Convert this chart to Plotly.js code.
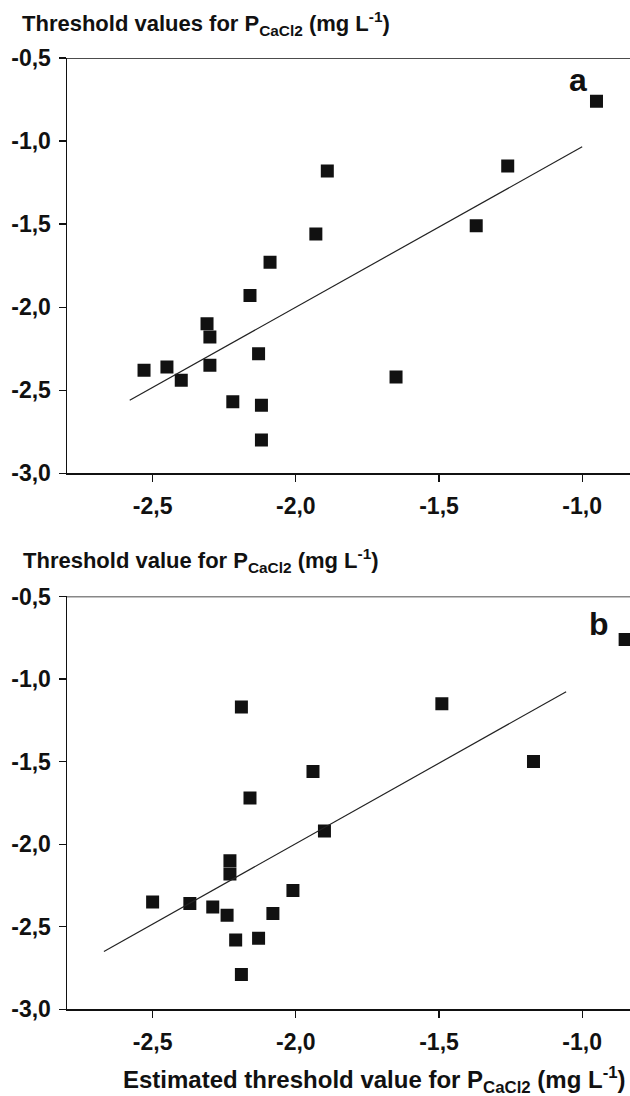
<!DOCTYPE html>
<html>
<head>
<meta charset="utf-8">
<script src="https://cdn.plot.ly/plotly-3.0.1.min.js"></script>
<style>html,body{margin:0;padding:0;background:#fff;overflow:hidden}</style>
</head>
<body>
<div id="chart" style="width:630px;height:1096px"></div>
<script>
// Panel a: threshold values (x) vs threshold values (y)
const xA = [-1.89, -1.93, -2.09, -2.16, -2.31, -2.30, -2.13, -2.30, -2.53, -2.45, -2.40, -2.22, -2.12, -2.12, -1.65, -0.95, -1.26, -1.37];
const yA = [-1.18, -1.56, -1.73, -1.93, -2.10, -2.18, -2.28, -2.35, -2.38, -2.36, -2.44, -2.57, -2.59, -2.80, -2.42, -0.76, -1.15, -1.51];
const fitAx = [-2.58, -1.00];
const fitAy = [-2.56, -1.035];

// Panel b: estimated threshold value (x) vs threshold value (y)
const xB = [-2.19, -1.49, -1.94, -2.16, -1.90, -2.23, -2.23, -2.01, -2.50, -2.37, -2.29, -2.24, -2.08, -2.21, -2.13, -2.19, -0.85, -1.17];
const yB = [-1.17, -1.15, -1.56, -1.72, -1.92, -2.10, -2.18, -2.28, -2.35, -2.36, -2.38, -2.43, -2.42, -2.58, -2.57, -2.79, -0.76, -1.50];
const fitBx = [-2.67, -1.056];
const fitBy = [-2.65, -1.077];

const xTicks = [-2.5, -2.0, -1.5, -1.0];
const yTicks = [-3.0, -2.5, -2.0, -1.5, -1.0, -0.5];
const tickText = v => v.toFixed(1).replace('.', ',');

const titleA = 'Threshold values for P<sub>CaCl2</sub> (mg L<sup>-1</sup>)';
const titleB = 'Threshold value for P<sub>CaCl2</sub> (mg L<sup>-1</sup>)';
const titleX = 'Estimated threshold value for P<sub>CaCl2</sub> (mg L<sup>-1</sup>)';

const FONT = 'Liberation Sans, Arial, sans-serif';
const ink = '#111111';

const markerStyle = {symbol: 'square', size: 13, color: ink};
const lineStyle = {color: '#222222', width: 1.2};

const traces = [
  {x: xA, y: yA, type: 'scatter', mode: 'markers', marker: markerStyle, xaxis: 'x', yaxis: 'y'},
  {x: fitAx, y: fitAy, type: 'scatter', mode: 'lines', line: lineStyle, xaxis: 'x', yaxis: 'y'},
  {x: xB, y: yB, type: 'scatter', mode: 'markers', marker: markerStyle, xaxis: 'x2', yaxis: 'y2'},
  {x: fitBx, y: fitBy, type: 'scatter', mode: 'lines', line: lineStyle, xaxis: 'x2', yaxis: 'y2'}
];

function xAxis(anchor) {
  return {
    anchor: anchor, domain: [0, 1], range: [-2.799, -0.833],
    tickvals: xTicks, ticktext: xTicks.map(tickText),
    ticks: 'outside', ticklen: 7, tickwidth: 1.2, tickcolor: ink,
    showline: true, linecolor: ink, linewidth: 1.5,
    showgrid: false, zeroline: false,
    tickfont: {family: FONT, size: 23, color: ink, weight: 'bold'},
    ticklabelstandoff: 5
  };
}
function yAxis(anchor, dom) {
  return {
    anchor: anchor, domain: dom, range: [-3.0, -0.5],
    tickvals: yTicks, ticktext: yTicks.map(tickText),
    ticks: 'outside', ticklen: 7, tickwidth: 1.2, tickcolor: ink,
    showline: true, linecolor: ink, linewidth: 1.5,
    showgrid: false, zeroline: false,
    tickfont: {family: FONT, size: 23, color: ink, weight: 'bold'},
    ticklabelstandoff: 3
  };
}

const titleFont = {family: FONT, size: 22, color: ink, weight: 'bold'};
const xTitleFont = {family: FONT, size: 24, color: ink, weight: 'bold'};

const layout = {
  width: 630, height: 1096,
  margin: {l: 67, r: 0, t: 0, b: 0},
  paper_bgcolor: '#ffffff', plot_bgcolor: '#ffffff',
  showlegend: false,
  xaxis: xAxis('y'),
  yaxis: yAxis('x', [0.5682, 0.9471]),
  xaxis2: xAxis('y2'),
  yaxis2: yAxis('x2', [0.0791, 0.4558]),
  shapes: [
    {type: 'line', xref: 'x domain', yref: 'y', x0: 0, x1: 1, y0: -0.5, y1: -0.5, line: {color: ink, width: 1.5}},
    {type: 'line', xref: 'x2 domain', yref: 'y2', x0: 0, x1: 1, y0: -0.5, y1: -0.5, line: {color: ink, width: 1.5}}
  ],
  annotations: [
    {text: titleA, xref: 'paper', yref: 'paper', x: -0.083, y: 1 - 24 / 1096, xanchor: 'left', yanchor: 'middle', showarrow: false, font: titleFont},
    {text: titleB, xref: 'paper', yref: 'paper', x: -0.081, y: 1 - 560.5 / 1096, xanchor: 'left', yanchor: 'middle', showarrow: false, font: titleFont},
    {text: titleX, xref: 'paper', yref: 'paper', x: (121 - 67) / 563, y: 1 - 1080 / 1096, xanchor: 'left', yanchor: 'middle', showarrow: false, font: xTitleFont},
    {text: 'a', xref: 'paper', yref: 'paper', x: (578 - 67) / 563, y: 1 - 80 / 1096, xanchor: 'center', yanchor: 'middle', showarrow: false, font: {family: FONT, size: 32, color: ink, weight: 'bold'}},
    {text: 'b', xref: 'paper', yref: 'paper', x: (599 - 67) / 563, y: 1 - 624 / 1096, xanchor: 'center', yanchor: 'middle', showarrow: false, font: {family: FONT, size: 32, color: ink, weight: 'bold'}}
  ]
};

Plotly.newPlot('chart', traces, layout, {staticPlot: true, displayModeBar: false});
</script>
</body>
</html>
